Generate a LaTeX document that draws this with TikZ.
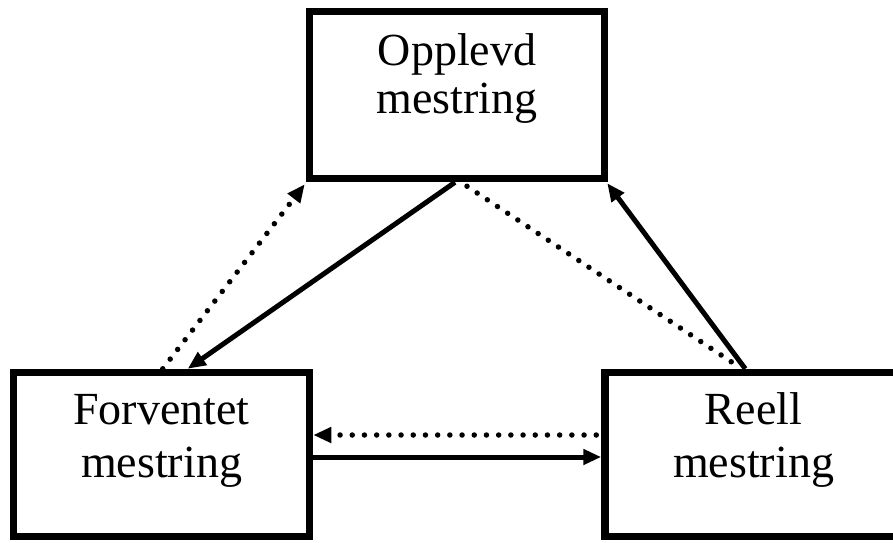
\documentclass[tikz,border=0pt]{standalone}
\usepackage{fontspec}
\setmainfont{Liberation Serif}
\usetikzlibrary{arrows.meta}
\begin{document}
\begin{tikzpicture}[x=1pt,y=-1pt,
  box/.style={draw=black, line width=7.5pt, fill=white, align=center,
    font=\fontsize{46}{48}\selectfont, text depth=10pt, inner sep=0pt},
  boxlow/.style={box, font=\fontsize{46}{53}\selectfont},
  solidarr/.style={line width=5pt, -{Triangle[length=18pt,width=15pt]}},
  dotline/.style={line width=5.5pt, line cap=round, dash pattern=on 0pt off 12.2pt},
  dotarr/.style={dotline, -{Triangle[length=18pt,width=15pt]}}
]
\useasboundingbox (0,0) rectangle (893,542);
\clip (0,0) rectangle (893,542);
\node[box, minimum width=295pt, minimum height=167pt, text height=46pt] (top) at (457,95) {Opplevd\\mestring};
\node[boxlow, minimum width=296pt, minimum height=164pt, text height=55pt] (fl) at (161.5,454.5) {Forventet\\mestring};
\node[boxlow, minimum width=297pt, minimum height=164pt, text height=55pt] (rr) at (753.5,454.5) {Reell\\mestring};
% top -- left
\draw[dotarr] ([xshift=153pt]fl.north west) -- ([xshift=-1pt,yshift=-2pt]top.south west);
\draw[solidarr] ([xshift=-2pt]top.south) -- ([xshift=178pt]fl.north west);
% top -- right
\draw[dotline] ([xshift=10pt,yshift=-4pt]top.south) -- ([xshift=136pt,yshift=3pt]rr.north west);
\draw[solidarr] ([xshift=144pt]rr.north west) -- ([xshift=-1pt,yshift=-1pt]top.south east);
% left -- right
\draw[dotarr] ([xshift=-5pt,yshift=19.5pt]rr.west) -- ([yshift=19.5pt]fl.east);
\draw[solidarr] ([yshift=-2.5pt]fl.east) -- ([yshift=-2.5pt]rr.west);
\end{tikzpicture}
\end{document}
